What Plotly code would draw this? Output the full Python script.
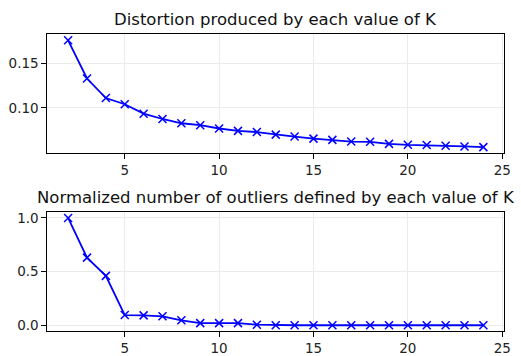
import plotly.graph_objects as go
from plotly.subplots import make_subplots

k_values = list(range(2, 25))
distortion = [0.176, 0.133, 0.111, 0.104, 0.0934, 0.0874, 0.0826, 0.0804, 0.0767,
              0.0740, 0.0727, 0.0698, 0.0676, 0.0653, 0.0639, 0.0620, 0.0617,
              0.0594, 0.0583, 0.0581, 0.0572, 0.0565, 0.0557]
outliers = [1.0, 0.63, 0.46, 0.095, 0.092, 0.083, 0.046, 0.02, 0.02, 0.02, 0.005,
            0.0, 0.0, 0.0, 0.0, 0.0, 0.0, 0.0, 0.0, 0.0, 0.0, 0.0, 0.0]
title_top = "Distortion produced by each value of K"
title_bottom = "Normalized number of outliers defined by each value of K"
x_ticks = [5, 10, 15, 20, 25]

W, H = 521, 356
fig = make_subplots(rows=2, cols=1)

for i, ys in enumerate([distortion, outliers], start=1):
    fig.add_trace(go.Scatter(
        x=k_values, y=ys, mode="lines+markers",
        line=dict(color="#0000ff", width=1.8),
        marker=dict(symbol="x-thin", size=8, color="#0000ff",
                    line=dict(color="#0000ff", width=1.5)),
        showlegend=False), row=i, col=1)

axis_common = dict(showline=True, linecolor="black", linewidth=1, mirror=True,
                   ticks="outside", ticklen=5, tickwidth=1, tickcolor="black",
                   showgrid=True, gridcolor="#ebebeb", gridwidth=1, zeroline=False,
                   tickfont=dict(family="DejaVu Sans", size=13.5, color="#222"))

xd = [48 / W, 511 / W]
fig.update_layout(
    xaxis=dict(domain=xd, range=[0.9, 25.1], tickvals=x_ticks, anchor="y", **axis_common),
    yaxis=dict(domain=[1 - 152.7 / H, 1 - 32.3 / H], range=[0.0496, 0.1833],
               tickvals=[0.10, 0.15], ticktext=["0.10", "0.15"], anchor="x", **axis_common),
    xaxis2=dict(domain=xd, range=[0.9, 25.1], tickvals=x_ticks, anchor="y2", **axis_common),
    yaxis2=dict(domain=[1 - 333.3 / H, 1 - 212.7 / H], range=[-0.05, 1.058],
                tickvals=[0.0, 0.5, 1.0], ticktext=["0.0", "0.5", "1.0"], anchor="x2", **axis_common),
    width=W, height=H, margin=dict(l=0, r=0, t=0, b=0),
    paper_bgcolor="white", plot_bgcolor="white",
    annotations=[
        dict(text=title_top, x=(xd[0] + xd[1]) / 2, y=1 - 18 / H, xref="paper", yref="paper",
             showarrow=False, xanchor="center", yanchor="middle",
             font=dict(family="DejaVu Sans", size=16.5, color="#111")),
        dict(text=title_bottom, x=(xd[0] + xd[1]) / 2, y=1 - 198 / H, xref="paper", yref="paper",
             showarrow=False, xanchor="center", yanchor="middle",
             font=dict(family="DejaVu Sans", size=16.5, color="#111")),
    ],
)

fig.write_html("out.html")
